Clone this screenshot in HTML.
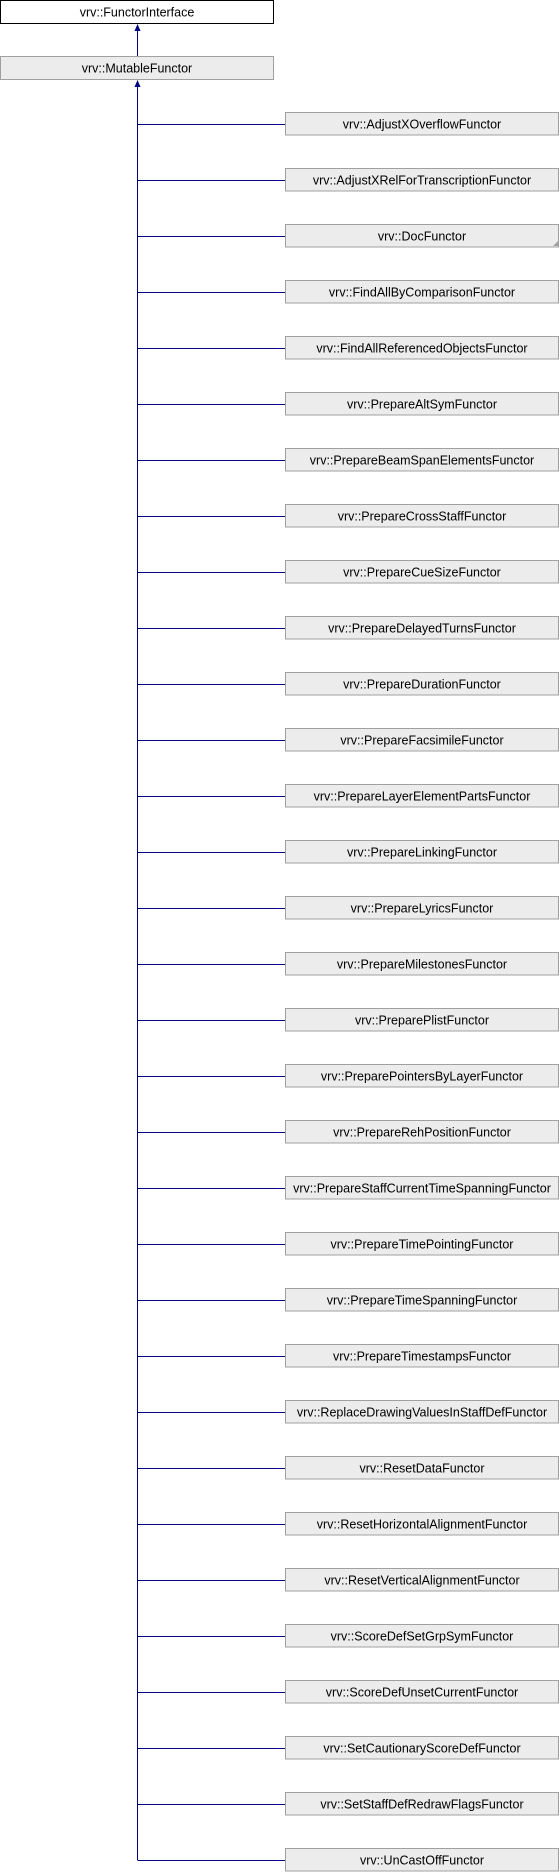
<!DOCTYPE html>
<html><head><meta charset="utf-8"><style>
html,body{margin:0;padding:0;background:#fff;}
body{width:560px;height:1872px;position:relative;overflow:hidden;font-family:"Liberation Sans",sans-serif;}
</style></head><body>
<svg width="560" height="1872" xmlns="http://www.w3.org/2000/svg" style="position:absolute;left:0;top:0" font-family="Liberation Sans, sans-serif" font-size="12.5">
<rect x="0.5" y="0.5" width="273" height="23" fill="#fff" stroke="#000"/>
<text x="137" y="16.5" text-anchor="middle">vrv::FunctorInterface</text>
<line x1="137.5" y1="29" x2="137.5" y2="56" stroke="#000080"/>
<polygon points="137.5,24 134.5,31 140.5,31" fill="#000080"/>
<rect x="0.5" y="56.5" width="273" height="23" fill="#ececec" stroke="#a0a0a0"/>
<text x="137" y="72.5" text-anchor="middle">vrv::MutableFunctor</text>
<line x1="137.5" y1="85" x2="137.5" y2="1860" stroke="#000080"/>
<polygon points="137.5,80 134.5,87 140.5,87" fill="#000080"/>
<g id="kids"></g>
</svg>
<script>
var n=["AdjustXOverflowFunctor","AdjustXRelForTranscriptionFunctor","DocFunctor","FindAllByComparisonFunctor","FindAllReferencedObjectsFunctor","PrepareAltSymFunctor","PrepareBeamSpanElementsFunctor","PrepareCrossStaffFunctor","PrepareCueSizeFunctor","PrepareDelayedTurnsFunctor","PrepareDurationFunctor","PrepareFacsimileFunctor","PrepareLayerElementPartsFunctor","PrepareLinkingFunctor","PrepareLyricsFunctor","PrepareMilestonesFunctor","PreparePlistFunctor","PreparePointersByLayerFunctor","PrepareRehPositionFunctor","PrepareStaffCurrentTimeSpanningFunctor","PrepareTimePointingFunctor","PrepareTimeSpanningFunctor","PrepareTimestampsFunctor","ReplaceDrawingValuesInStaffDefFunctor","ResetDataFunctor","ResetHorizontalAlignmentFunctor","ResetVerticalAlignmentFunctor","ScoreDefSetGrpSymFunctor","ScoreDefUnsetCurrentFunctor","SetCautionaryScoreDefFunctor","SetStaffDefRedrawFlagsFunctor","UnCastOffFunctor"];
var s="";
for(var i=0;i<n.length;i++){var y=112+56*i;
s+='<line x1="137.5" y1="'+(y+12.5)+'" x2="285" y2="'+(y+12.5)+'" stroke="#000080"/>';
s+='<rect x="285.5" y="'+(y+0.5)+'" width="273" height="22.5" fill="#ececec" stroke="#a0a0a0"/>';
s+='<text x="422" y="'+(y+16.5)+'" text-anchor="middle">vrv::'+n[i]+'</text>';
if(i==2)s+='<polygon points="558,'+(y+17)+' 558,'+(y+22)+' 553,'+(y+22)+'" fill="#a0a0a0"/>';}
document.getElementById("kids").innerHTML=s;
</script>
</body></html>
